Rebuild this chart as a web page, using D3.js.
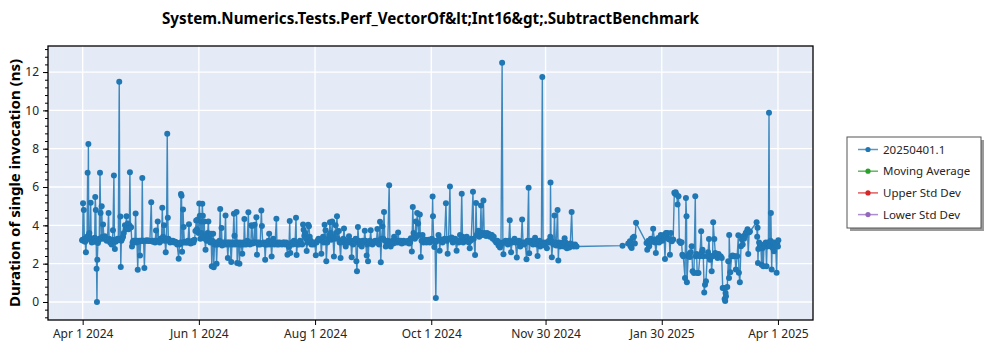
<!DOCTYPE html>
<html><head><meta charset="utf-8">
<script src="https://cdn.jsdelivr.net/npm/d3@7"></script>
<style>
html,body{margin:0;padding:0;background:#fff;}
svg{display:block;font-family:"Noto Sans","Open Sans",sans-serif;}
</style></head>
<body><svg id="chart" width="1000" height="350"></svg>
<script>
// ---------- data ----------
const chartTitle = "System.Numerics.Tests.Perf_VectorOf&lt;Int16&gt;.SubtractBenchmark";
const yAxisTitle = "Duration of single invocation (ns)";
const seriesNames = ["20250401.1", "Moving Average", "Upper Std Dev", "Lower Std Dev"];
const seriesColors = ["#1f77b4", "#2ca02c", "#d62728", "#9467bd"];
const originDate = "2024-04-01";
const xTickLabels = ["Apr 1 2024", "Jun 1 2024", "Aug 1 2024", "Oct 1 2024", "Nov 30 2024", "Jan 30 2025", "Apr 1 2025"];
const yTickValues = [0, 2, 4, 6, 8, 10, 12];
const xRangeDays = [-18.2, 383.4];
const yRange = [-0.94, 13.36];
// [days since 2024-04-01, duration in ns]
const samples = [
[-0.3,3.22],[0.0,3.25],[0.2,5.15],[0.4,3.2],[0.6,4.8],[0.9,3.3],[1.3,3.15],[1.7,2.6],[2.0,3.3],[2.3,3.4],
[2.6,6.75],[2.8,3.3],[3.0,8.24],[3.2,3.5],[3.5,3.6],[3.8,3.3],[4.2,5.18],[4.5,3.2],[4.8,3.1],[5.2,3.3],
[5.6,3.2],[6.0,3.15],[6.3,3.35],[6.6,5.48],[6.9,4.8],[7.1,3.2],[7.3,1.73],[7.5,0.0],[7.7,2.2],[8.0,3.08],
[8.3,3.2],[8.7,3.3],[9.1,6.74],[9.4,4.65],[9.7,3.3],[10.0,5.0],[10.4,3.4],[10.7,4.04],[11.2,3.3],[11.7,3.43],
[12.1,3.3],[12.6,3.2],[13.0,3.25],[13.6,4.65],[13.9,3.3],[14.4,3.1],[14.8,3.2],[15.2,3.0],[15.6,3.25],[15.9,3.74],
[16.4,6.6],[16.7,3.2],[16.9,2.76],[17.3,3.15],[17.8,3.2],[18.3,3.3],[18.7,3.25],[19.2,11.5],[19.5,3.3],[19.8,4.46],
[20.0,1.82],[20.3,3.2],[20.7,3.3],[21.2,3.4],[21.6,3.6],[22.2,4.0],[22.5,3.8],[23.0,4.48],[23.3,3.9],[23.7,4.1],
[24.1,3.8],[24.5,4.0],[24.8,6.77],[25.1,3.9],[25.4,3.9],[25.9,2.9],[26.2,3.1],[26.6,3.2],[27.0,3.15],[27.4,3.2],
[27.8,4.62],[28.1,3.1],[28.5,3.2],[28.9,1.68],[29.3,3.15],[29.7,3.2],[30.1,2.43],[30.5,3.2],[31.0,3.2],[31.3,6.47],
[31.6,3.2],[32.0,3.2],[32.4,1.77],[32.8,3.2],[33.3,3.2],[33.8,3.22],[34.3,3.2],[34.8,3.2],[35.3,3.18],[36.0,5.2],
[36.4,3.2],[36.9,3.15],[37.4,3.2],[38.0,3.1],[38.5,3.73],[38.9,3.2],[39.4,4.2],[39.9,3.2],[40.4,3.1],[40.9,3.3],
[41.4,3.2],[41.8,4.92],[42.2,3.4],[42.7,4.0],[43.2,3.2],[43.6,2.6],[44.0,3.3],[44.4,8.78],[44.7,4.4],[45.0,3.3],
[45.4,3.2],[45.9,3.1],[46.4,3.2],[46.9,3.15],[47.4,3.2],[48.0,3.1],[48.6,3.15],[49.1,3.1],[49.6,3.0],[50.4,2.26],
[50.8,3.0],[51.3,3.1],[51.6,5.63],[51.9,5.55],[52.2,2.62],[52.5,3.1],[52.7,4.83],[53.0,3.92],[53.4,3.1],[53.9,3.15],
[54.4,3.1],[54.9,3.1],[55.3,3.2],[55.8,4.06],[56.2,3.1],[56.7,3.05],[57.2,3.1],[57.7,3.2],[58.2,3.1],[58.7,3.25],
[59.2,3.7],[59.6,4.25],[60.0,3.8],[60.4,4.3],[60.8,3.6],[61.2,5.14],
[61.5,4.5],[61.8,3.3],[62.2,4.2],[62.5,3.6],[62.8,5.13],[63.1,4.5],[63.4,3.4],[63.8,4.2],[64.1,3.3],[64.5,2.73],
[64.8,3.4],[65.2,3.2],[65.6,3.6],[66.0,4.2],[66.3,3.34],[66.7,3.5],[67.0,3.1],[67.4,3.56],[67.8,1.86],[68.1,3.2],
[68.5,3.56],[68.8,1.81],[69.2,3.0],[69.6,3.1],[70.0,3.0],[70.3,2.0],[70.7,3.1],[71.0,3.0],[71.4,3.1],[71.8,3.2],
[72.2,4.85],[72.5,3.1],[72.9,3.86],[73.2,2.95],[73.6,3.1],[74.0,3.0],[74.5,3.1],[75.0,4.52],[75.3,3.0],[75.8,3.1],
[76.2,2.3],[76.6,3.1],[77.0,3.0],[77.4,3.1],[78.0,2.09],[78.4,3.1],[78.8,3.0],[79.4,4.6],[79.7,3.46],[80.1,3.0],
[80.5,3.1],[80.8,4.7],[81.1,2.03],[81.5,3.1],[81.9,3.0],[82.3,2.0],[82.7,3.1],[83.2,3.0],[83.8,2.52],[84.2,3.1],
[84.6,3.0],[84.9,4.33],[85.3,3.1],[85.8,3.0],[86.4,3.2],[87.0,4.68],[87.3,3.1],[87.8,3.0],[88.3,3.1],[88.6,4.0],
[88.9,3.97],[89.3,3.05],[89.8,3.1],[90.3,4.03],[90.6,3.1],[91.2,4.42],[91.5,2.47],[91.8,3.1],[92.2,3.0],[92.7,3.1],
[93.2,3.0],[93.8,4.77],[94.1,3.97],[94.5,3.05],[95.0,3.1],[95.5,3.0],[95.8,2.2],[96.2,3.0],[96.6,3.1],[97.0,3.0],
[97.5,3.2],[97.9,3.56],[98.3,3.0],[98.8,3.1],[99.2,2.38],[99.6,3.1],[100.0,3.3],[100.5,3.0],[101.0,3.1],[101.7,4.35],
[102.0,3.0],[102.5,3.1],[103.0,3.0],[103.5,3.1],[104.0,3.05],[104.6,3.0],[105.2,3.1],[105.8,3.1],[106.3,3.0],[106.9,3.1],
[107.5,2.47],[107.9,3.0],[108.3,2.87],[108.7,4.23],[109.0,2.56],[109.4,3.0],[109.9,3.1],[110.4,3.0],[110.9,3.2],[111.5,3.1],
[112.0,4.4],[112.3,2.45],[112.7,3.0],[113.1,3.1],[113.6,3.0],[114.1,3.2],[114.6,3.1],[115.2,3.0],[115.7,4.05],[116.0,3.77],
[116.4,3.46],[116.8,3.6],[117.2,3.3],[117.6,2.66],[118.0,3.1],[118.4,4.03],[118.8,3.95],[119.2,3.4],[119.7,3.2],[120.1,3.0],
[120.6,3.1],[121.2,3.0],[121.8,3.1],[122.4,2.44],[122.8,3.1],[123.3,3.2],[123.8,3.3],
[124.9,3.25],[125.3,2.52],[125.7,3.2],[126.2,3.4],[126.6,3.1],[127.0,4.03],[127.5,3.74],[127.9,2.12],[128.4,3.1],[128.9,3.3],
[129.4,3.5],[129.8,4.16],[130.2,3.6],[130.5,3.25],[131.0,4.2],[131.4,3.4],[131.9,2.38],[132.3,3.3],[132.8,4.0],[133.1,3.6],
[133.5,4.47],[133.9,3.3],[134.5,3.7],[134.9,3.1],[135.4,2.3],[135.8,3.2],[136.3,3.1],[136.8,3.3],[137.2,3.83],[137.6,3.2],
[138.1,2.9],[138.6,3.2],[139.2,3.1],[139.8,3.43],[140.3,3.1],[140.8,3.2],[141.2,2.33],[141.6,3.1],[142.0,3.0],[142.4,3.2],
[142.9,3.1],[143.3,3.3],[143.7,2.12],[144.0,1.6],[144.5,3.91],[144.9,3.2],[145.4,3.0],[146.0,3.1],[146.5,2.9],[147.0,3.2],
[147.6,3.1],[148.1,3.72],[148.5,3.2],[149.1,2.42],[149.4,3.0],[149.8,2.12],[150.3,3.1],[150.8,3.2],[151.2,3.74],[151.6,3.1],
[152.1,3.0],[152.6,3.15],[153.1,3.1],[153.6,3.2],[154.2,3.1],[154.7,3.81],[155.1,3.2],[155.6,3.0],[156.1,4.19],[156.5,2.07],
[156.9,3.3],[157.4,3.95],[157.8,3.3],[158.2,4.7],[158.6,3.2],[159.1,2.9],[159.6,3.1],[160.2,3.2],[160.9,6.09],[161.3,3.1],
[161.7,2.9],[162.2,3.1],[162.7,3.2],[163.1,3.05],[163.5,3.4],[164.0,3.1],[164.6,3.2],[165.1,3.1],[165.6,3.63],[166.0,3.2],
[166.5,3.1],[167.0,3.2],[167.5,3.05],[168.0,3.1],[168.5,3.2],[169.0,3.1],[169.6,3.15],[170.2,3.1],[170.8,3.2],[171.4,3.05],
[171.9,3.1],[172.3,3.32],[172.8,2.63],[173.3,4.96],[173.7,3.6],[174.0,3.5],[174.4,3.3],[174.9,4.2],[175.2,3.4],[175.6,4.64],
[176.1,4.1],[176.5,3.5],[177.0,4.56],[177.5,2.35],[177.9,3.2],[178.4,3.5],[178.9,3.1],[179.4,3.2],[179.9,3.25],[180.5,3.1],
[181.0,3.2],[181.6,3.25],[182.2,3.1],[182.8,3.2],[183.3,3.3],[183.7,5.5],[183.9,4.47],[184.3,3.2],[184.6,2.87],[185.0,3.1],
[185.4,0.21],[185.8,3.2],[186.3,3.2],[186.8,3.5],[187.2,3.3],[187.4,2.68],[187.9,3.2],[188.4,3.25],[188.9,3.1],[189.4,3.2],
[190.0,3.3],[190.7,5.15],[191.2,3.2],[191.6,2.52],[192.1,3.3],[192.8,6.03],[193.2,3.3],
[193.7,3.37],[194.3,3.1],[194.9,3.2],[195.5,3.3],[196.3,2.68],[196.8,3.2],[197.4,3.1],[198.1,3.5],[198.5,3.2],[199.0,5.65],
[199.4,3.4],[199.8,3.1],[200.4,3.2],[201.0,3.25],[201.6,3.4],[202.1,3.2],[202.7,3.1],[203.2,2.8],[203.6,3.2],[204.0,3.3],
[204.9,5.75],[205.3,3.3],[206.0,2.45],[206.5,5.17],[206.9,3.5],[207.4,3.6],[207.7,3.72],[208.2,3.4],[208.7,3.5],[209.1,5.03],
[209.4,3.6],[209.8,3.5],[210.4,5.3],[210.8,3.6],[211.3,3.5],[211.8,3.45],[212.3,3.6],[212.8,3.5],[213.3,3.55],[213.8,3.4],
[214.3,3.5],[214.8,3.5],[215.3,3.3],[215.8,3.4],[216.5,3.2],[217.1,3.1],[217.7,3.2],[218.3,2.95],[218.8,3.1],[219.1,2.84],
[219.6,3.0],[220.2,12.49],[220.6,3.1],[220.9,2.49],[221.4,3.1],[222.0,3.2],[222.7,3.1],[223.2,3.0],[223.7,3.2],[224.2,4.26],
[224.6,3.1],[224.9,2.6],[225.4,3.1],[226.0,3.2],[226.7,3.3],[227.2,3.1],[227.9,2.32],[228.3,3.1],[229.0,3.2],[229.7,2.9],
[230.2,3.1],[230.7,4.3],[231.2,3.1],[231.8,3.0],[232.3,3.1],[233.0,2.23],[233.5,3.2],[234.1,5.96],[234.4,2.54],[234.9,3.1],
[235.4,3.2],[235.8,3.1],[236.4,3.0],[237.0,3.2],[237.5,3.35],[237.9,3.1],[238.3,3.0],[238.8,2.4],[239.3,3.1],[239.8,3.2],
[240.2,2.9],[240.8,3.0],[241.3,11.74],[241.7,3.1],[242.0,3.0],[242.6,2.95],[243.1,3.1],[243.7,2.8],[244.2,3.1],[244.8,3.2],
[245.3,3.1],[245.5,3.4],[245.6,6.24],[245.9,3.2],[246.3,2.33],[246.8,3.1],[247.2,3.0],[247.7,4.52],[248.1,3.1],[248.6,2.95],
[249.3,4.8],[249.7,2.16],[250.1,3.1],[250.6,2.9],[251.0,3.0],[251.6,2.95],[252.1,3.1],[252.6,2.9],[253.0,3.33],[253.5,3.1],
[254.2,2.8],[254.7,3.0],[255.1,2.9],[255.5,2.85],[256.0,3.05],[256.7,4.7],[257.2,3.0],[257.8,2.9],[258.5,3.0],[259.3,2.9],
[283.4,2.94],[286.4,3.05],[287.3,3.17],[287.6,2.91],[288.2,2.82],[288.7,3.34],[289.4,3.4],[289.9,3.05],[290.5,4.13],
[296.0,3.08],[296.4,2.73],[297.0,3.2],[297.4,2.91],[297.8,3.08],[298.3,3.3],[298.7,3.17],[299.5,3.82],[300.1,3.26],[300.5,3.1],
[300.9,2.56],[301.5,3.2],[302.2,3.34],[302.6,3.1],[303.0,3.26],[303.5,3.5],[303.9,3.43],[304.3,3.2],[304.8,3.34],[305.2,3.5],
[305.7,2.25],[306.2,3.6],[306.6,3.4],[306.9,3.6],[307.4,3.3],[308.0,3.26],[308.3,2.47],[308.8,3.6],[309.3,3.17],[310.0,3.26],
[310.6,5.7],[311.0,5.65],[311.3,5.73],[311.8,5.6],[312.3,5.09],[312.8,5.52],[313.2,3.17],[313.9,3.08],[314.4,3.12],[314.8,2.47],
[315.3,2.39],[316.2,1.25],[316.7,5.43],[317.0,4.48],[317.2,1.03],[317.9,2.39],[318.3,2.5],[318.8,2.35],[319.2,2.6],[319.7,2.91],
[320.2,1.6],[320.9,1.51],[321.6,5.52],[321.9,2.39],[322.3,2.5],[322.6,1.51],[323.3,1.51],[324.0,2.39],[324.7,3.69],[325.1,2.6],
[325.4,2.73],[325.8,2.39],[326.3,0.5],[326.7,0.9],[327.2,1.08],[327.9,2.39],[328.3,2.6],[328.8,3.29],[329.3,2.2],[329.8,2.4],
[330.2,1.6],[330.7,2.39],[331.0,4.16],[331.6,3.29],[332.1,2.56],[332.8,2.39],[333.3,2.3],[333.8,2.5],[334.2,2.39],[334.9,2.39],
[335.5,2.3],[336.0,0.73],[336.6,0.73],[337.0,0.16],[337.3,0.05],[337.5,0.47],[337.7,0.3],[338.4,0.78],[338.9,2.13],[339.3,1.25],
[339.4,3.5],[340.0,1.55],[340.7,2.39],[341.2,2.42],[341.9,2.39],[342.4,2.39],[342.9,1.69],[343.6,2.39],[344.2,3.48],[344.5,1.52],
[345.0,1.03],[345.6,2.91],[346.1,3.26],[346.5,3.0],[346.8,3.43],[347.2,3.3],[347.7,3.47],[348.1,3.6],[348.5,3.64],[349.0,3.8],
[349.4,2.51],[349.9,3.64],[350.3,3.68],[353.8,4.16],[354.1,3.4],[354.3,3.87],[354.5,2.04],[354.7,2.77],[355.1,3.1],[355.5,2.91],
[356.0,3.0],[356.4,1.95],[356.8,2.8],[357.3,1.86],[357.7,3.0],[358.2,2.91],[358.6,3.1],[359.0,1.86],[359.3,2.9],[359.6,3.05],
[360.0,3.1],[360.3,9.88],[360.6,3.0],[360.8,2.91],[361.1,3.2],[361.3,4.65],[361.7,1.69],[362.0,3.1],[362.2,2.82],[362.6,3.0],
[362.9,2.65],[363.2,3.1],[363.4,2.91],[363.8,3.0],[364.3,1.52],[364.6,3.05],[365.0,2.9],[365.2,3.22]
];

// ---------- layout ----------
const svg = d3.select("#chart");
const plot = {left: 48, top: 46, right: 813, bottom: 320};
const DAY = 86400000;
const t0 = d3.utcParse("%Y-%m-%d")(originDate).getTime();
const toDate = d => new Date(t0 + d * DAY);
const parseTick = d3.utcParse("%b %d %Y");
const xTickDates = xTickLabels.map(s => parseTick(s));

const x = d3.scaleUtc().domain(xRangeDays.map(toDate)).range([plot.left, plot.right]);
const y = d3.scaleLinear().domain(yRange).range([plot.bottom, plot.top]);

// background
svg.append("rect").attr("x", plot.left).attr("y", plot.top)
  .attr("width", plot.right - plot.left).attr("height", plot.bottom - plot.top)
  .attr("fill", "#e5ebf6");

// grid
const grid = svg.append("g");
grid.selectAll("line.gy").data(yTickValues).join("line")
  .attr("x1", plot.left).attr("x2", plot.right)
  .attr("y1", d => y(d)).attr("y2", d => y(d))
  .attr("stroke", "#fff").attr("stroke-width", 1.3);
grid.selectAll("line.gx").data(xTickDates).join("line")
  .attr("y1", plot.top).attr("y2", plot.bottom)
  .attr("x1", d => x(d)).attr("x2", d => x(d))
  .attr("stroke", "#fff").attr("stroke-width", 1.3);

// clip
svg.append("clipPath").attr("id", "clip").append("rect")
  .attr("x", plot.left).attr("y", plot.top)
  .attr("width", plot.right - plot.left).attr("height", plot.bottom - plot.top);

const pts = samples.map(([d, v]) => ({date: toDate(d), v}));
const g = svg.append("g").attr("clip-path", "url(#clip)");
g.append("path").datum(pts)
  .attr("fill", "none").attr("stroke", seriesColors[0]).attr("stroke-opacity", 0.85)
  .attr("stroke-width", 1.4)
  .attr("d", d3.line().x(d => x(d.date)).y(d => y(d.v)));
g.selectAll("circle").data(pts).join("circle")
  .attr("cx", d => x(d.date)).attr("cy", d => y(d.v)).attr("r", 3)
  .attr("fill", seriesColors[0]);

// axes
const fmt = d3.utcFormat("%b %-d %Y");
const xAxis = d3.axisBottom(x).tickValues(xTickDates).tickFormat(fmt).tickSize(5).tickPadding(4);
const gx = svg.append("g").attr("transform", `translate(0,${plot.bottom})`).call(xAxis);
const minorY = d3.range(-0.8, 13.3, 0.4).map(v => Math.round(v * 10) / 10);
svg.append("g").attr("transform", `translate(${plot.left},0)`)
  .call(d3.axisLeft(y).tickValues(minorY).tickSize(3).tickFormat(""))
  .call(s => s.select(".domain").remove());
const gy = svg.append("g").attr("transform", `translate(${plot.left},0)`)
  .call(d3.axisLeft(y).tickValues(yTickValues).tickFormat(d3.format("d")).tickSize(5).tickPadding(4));
[gx, gy].forEach(a => {
  a.selectAll("text").attr("font-size", 12).attr("fill", "#262626")
    .attr("font-family", "'Noto Sans', sans-serif");
  a.select(".domain").remove();
});
svg.selectAll(".tick line").attr("stroke", "#000");

// frame
svg.append("rect").attr("x", plot.left).attr("y", plot.top)
  .attr("width", plot.right - plot.left).attr("height", plot.bottom - plot.top)
  .attr("fill", "none").attr("stroke", "#000").attr("stroke-width", 1.3);

// title
svg.append("text").attr("x", (plot.left + plot.right) / 2).attr("y", 24)
  .attr("text-anchor", "middle").attr("font-weight", "bold").attr("font-size", 15.2)
  .attr("fill", "#000").text(chartTitle);

svg.append("text").attr("transform", `translate(20,${(plot.top + plot.bottom) / 2}) rotate(-90)`)
  .attr("text-anchor", "middle").attr("font-weight", "bold").attr("font-size", 15)
  .attr("fill", "#000").text(yAxisTitle);

// legend
const lg = svg.append("g");
const box = {x: 847, y: 137, w: 134, h: 91};
lg.append("rect").attr("x", box.x + 3).attr("y", box.y + 3).attr("width", box.w).attr("height", box.h)
  .attr("fill", "#9a9a9a");
lg.append("rect").attr("x", box.x).attr("y", box.y).attr("width", box.w).attr("height", box.h)
  .attr("fill", "#fff").attr("stroke", "#555").attr("stroke-width", 1);
const rowY = i => box.y + 12.5 + i * 21.7;
const items = lg.selectAll("g.item").data(seriesNames).join("g");
items.append("line").attr("x1", 858).attr("x2", 878)
  .attr("y1", (d, i) => rowY(i)).attr("y2", (d, i) => rowY(i))
  .attr("stroke", (d, i) => seriesColors[i]).attr("stroke-opacity", 0.75).attr("stroke-width", 1.5);
items.append("circle").attr("cx", 868).attr("cy", (d, i) => rowY(i)).attr("r", 2.6)
  .attr("fill", (d, i) => seriesColors[i]);
items.append("text").attr("x", 883).attr("y", (d, i) => rowY(i)).attr("dy", "0.35em")
  .attr("font-size", 11.5).attr("fill", "#262626").text(d => d);
</script></body></html>
